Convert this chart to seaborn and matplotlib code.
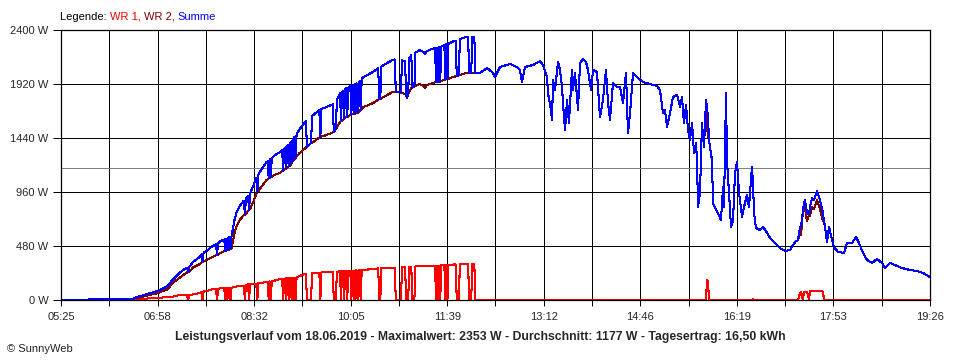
import numpy as np
import pandas as pd
import matplotlib
matplotlib.use("Agg")
import matplotlib.pyplot as plt
import seaborn as sns

# Zeit in Minuten seit Mitternacht, Leistung in W
zeit_vormittag = [325, 345, 363, 380, 395, 399, 404, 411, 418, 421,
                  428, 433, 440, 447, 448, 449, 453, 459, 461, 462,
                  463, 466, 472, 475, 476, 477, 479, 483, 484, 485,
                  486, 487, 488, 489, 490, 493, 495, 498, 502, 503,
                  504, 506, 507, 508, 511, 514, 515, 516, 518, 524,
                  525, 526, 527, 528, 529, 531, 537, 539, 540, 541,
                  542, 543, 544, 545, 546, 547, 548, 549, 550, 551,
                  552, 553, 556, 562, 563, 567, 568, 569, 575, 576,
                  577, 582, 588, 589, 591, 592, 595, 596, 597, 598,
                  599, 600, 601, 602, 603, 605, 606, 607, 608, 609,
                  610, 611, 612, 613, 614, 615, 616, 618, 627, 632,
                  633, 634, 635, 637, 646, 648, 649, 654, 655, 658,
                  659, 660, 661, 662, 664, 665, 667, 668, 672, 676,
                  677, 679, 685, 687, 688, 689, 690, 691, 692, 693,
                  696, 697, 698, 699, 700, 704, 707, 708, 710, 711,
                  717, 719, 720, 722, 723, 725, 726]
wr1_vormittag = [0, 0, 0, 0, 0, 9, 10, 15, 18, 20,
                 27, 30, 44, 44, 0, 44, 50, 62, 70, 0,
                 75, 80, 98, 100, 0, 100, 104, 106, 0, 107,
                 0, 107, 108, 0, 110, 115, 120, 125, 128, 0,
                 135, 138, 0, 140, 142, 146, 0, 148, 150, 160,
                 162, 0, 165, 0, 168, 170, 187, 188, 0, 190,
                 191, 0, 192, 193, 0, 194, 195, 0, 195, 196,
                 0, 200, 213, 235, 0, 0, 238, 240, 244, 0,
                 245, 249, 250, 0, 0, 252, 255, 0, 256, 256,
                 0, 257, 257, 0, 258, 260, 0, 262, 262, 0,
                 263, 264, 0, 265, 265, 0, 266, 267, 276, 280,
                 0, 0, 282, 284, 284, 286, 0, 0, 290, 292,
                 0, 0, 0, 295, 296, 0, 0, 298, 302, 302,
                 302, 302, 305, 305, 0, 306, 0, 307, 0, 308,
                 309, 0, 310, 0, 311, 315, 316, 0, 0, 318,
                 320, 320, 0, 0, 320, 320, 0]
wr2_vormittag = [0, 2, 8, 10, 12, 18, 30, 45, 60, 70,
                 95, 150, 200, 245, 248, 250, 290, 318, 335, 340,
                 345, 356, 385, 397, 400, 405, 418, 432, 435, 440,
                 444, 446, 449, 452, 456, 600, 660, 711, 755, 760,
                 770, 790, 800, 810, 870, 940, 960, 965, 996, 1067,
                 1072, 1080, 1085, 1090, 1095, 1110, 1129, 1145, 1150, 1155,
                 1165, 1170, 1182, 1186, 1190, 1200, 1215, 1230, 1244, 1252,
                 1260, 1275, 1307, 1355, 1360, 1395, 1400, 1404, 1445, 1449,
                 1452, 1467, 1490, 1493, 1520, 1530, 1582, 1590, 1595, 1603,
                 1610, 1620, 1624, 1627, 1630, 1644, 1648, 1650, 1652, 1655,
                 1658, 1662, 1665, 1668, 1680, 1690, 1700, 1716, 1751, 1780,
                 1785, 1788, 1790, 1804, 1849, 1852, 1855, 1845, 1840, 1830,
                 1822, 1796, 1830, 1850, 1885, 1893, 1898, 1900, 1920, 1900,
                 1884, 1910, 1930, 1936, 1938, 1938, 1940, 1940, 1942, 1945,
                 1958, 1960, 1964, 1966, 1966, 1982, 1988, 1990, 1996, 2000,
                 2018, 2018, 2018, 2018, 2018, 2019, 2020]

zeit_nachmittag = [730.5, 737.3, 743.1, 745.0, 749.9, 759.5, 766.3, 769.2, 771.1, 774.0, 781.8, 788.6,
                   791.5, 795.3, 796.3, 799.2, 800.2, 801.2, 803.1, 806.0, 807.9, 809.9, 810.8, 812.8,
                   814.7, 816.6, 819.5, 820.5, 822.4, 824.4, 825.3, 827.3, 830.2, 833.1, 835.0, 837.9,
                   839.9, 843.7, 846.6, 849.5, 852.4, 854.4, 856.3, 859.2, 863.1, 866.0, 868.9, 871.8,
                   873.7, 875.7, 878.6, 882.4, 888.2, 895.0, 901.8, 904.7, 907.6, 909.5, 911.5, 914.4,
                   917.3, 921.2, 924.1, 926.0, 927.9, 929.9, 931.8, 933.7, 935.7, 937.6, 939.5, 940.5,
                   941.5, 943.4, 945.3, 947.3, 949.2, 950.2, 951.2, 952.1, 955.0, 956.0, 958.9, 960.8,
                   963.7, 965.7, 966.6, 968.6, 969.5, 971.5, 973.4, 975.4, 977.3, 979.2, 981.2, 984.1,
                   986.0, 988.9, 990.8, 993.7, 994.7, 995.7, 997.6, 1001.5, 1004.4, 1008.3, 1011.2, 1016.0,
                   1020.8, 1025.7, 1030.5, 1035.4, 1038.3, 1040.2, 1041.2, 1043.1, 1044.0, 1045.0, 1047.0, 1048.9,
                   1049.9, 1051.8, 1053.8, 1056.7, 1059.5, 1062.4, 1063.4, 1064.4, 1066.3, 1068.3, 1071.2, 1073.1,
                   1077.0, 1082.8, 1085.7, 1090.5, 1094.4, 1097.3, 1101.2, 1105.0, 1109.9, 1114.7, 1119.6, 1122.5,
                   1127.3, 1132.1, 1138.9, 1146.6, 1153.4, 1159.2, 1166.0]
wr1_nachmittag = ([0] * 77 + [178, 160] + [0] * 21 + [10] + [0] * 12
                  + [60, 70, 0, 75, 75, 75, 0, 80, 80, 80, 80, 80, 75] + [0] * 25)
wr2_nachmittag = [2018, 2062, 2018, 1982, 2071, 2098, 2071, 2044, 1938, 2071, 2089, 2124,
                  2089, 1982, 1840, 1689, 1600, 1956, 1867, 2116, 2044, 1893, 1751, 1511,
                  1778, 1573, 2044, 1867, 2018, 1804, 1689, 2107, 2142, 2116, 2044, 1867,
                  2044, 2027, 1627, 1778, 2044, 1751, 1600, 1929, 1893, 1893, 1751, 2018,
                  1484, 1662, 2018, 1982, 1938, 1920, 1902, 1867, 1662, 1689, 1538, 1662,
                  1804, 1822, 1716, 1804, 1573, 1733, 1511, 1422, 1573, 1307, 1396, 1244,
                  827, 951, 1573, 1360, 1778, 1540, 1450, 1422, 1244, 862, 800, 773,
                  711, 1004, 827, 1840, 1244, 951, 649, 711, 1129, 1227, 951, 738,
                  827, 933, 827, 1182, 1030, 773, 640, 622, 649, 596, 551, 507,
                  462, 436, 444, 516, 533, 589, 579, 800, 790, 814, 698, 760,
                  747, 827, 809, 889, 809, 698, 700, 649, 516, 649, 533, 471,
                  427, 418, 507, 507, 560, 507, 418, 356, 329, 364, 329, 284,
                  329, 311, 284, 267, 258, 240, 204]

x_labels = ["05:25", "06:58", "08:32", "10:05", "11:39", "13:12", "14:46", "16:19", "17:53", "19:26"]
y_werte = [0, 480, 960, 1440, 1920, 2400]
durchschnitt = 1177
titel = ("Leistungsverlauf vom 18.06.2019 - Maximalwert: 2353 W - Durchschnitt: 1177 W"
         " - Tagesertrag: 16,50 kWh")

farben = {"WR 1": "#ff0000", "WR 2": "#800000", "Summe": "#0000ff"}

df = pd.DataFrame({
    "zeit": zeit_vormittag + zeit_nachmittag,
    "WR 1": wr1_vormittag + wr1_nachmittag,
    "WR 2": wr2_vormittag + wr2_nachmittag,
})
df["Summe"] = df["WR 1"] + df["WR 2"]
lang = df.melt(id_vars="zeit", var_name="serie", value_name="leistung")

sns.set_theme(style="white")
plt.rcParams["font.family"] = ["Liberation Sans", "DejaVu Sans"]

fig = plt.figure(figsize=(9.6, 3.6), dpi=100)
ax = fig.add_axes([61 / 960, 60 / 360, 869 / 960, 270 / 360])

# Linien ohne Kantenglättung wie im Original
sns.lineplot(data=lang, x="zeit", y="leistung", hue="serie", hue_order=["WR 1", "WR 2", "Summe"],
             palette=farben, estimator=None, legend=False, ax=ax, linewidth=0.75,
             antialiased=False)

ax.axhline(durchschnitt, color="#808080", lw=0.72, zorder=1.5, antialiased=False)

x_pos = np.linspace(325, 1166, 10)
ax.set_xlim(325, 1166)
ax.set_ylim(0, 2400)
ax.set_xticks(x_pos)
ax.set_xticklabels(x_labels)
ax.set_xticks(np.linspace(325, 1166, 19), minor=True)
ax.set_yticks(y_werte)
ax.set_yticklabels([f"{v} W" for v in y_werte])
ax.set_xlabel("")
ax.set_ylabel("")
ax.set_axisbelow(True)
ax.grid(True, which="both", color="black", lw=0.72, antialiased=False)
ax.tick_params(axis="x", which="both", direction="out", length=4, width=0.72, color="black",
               labelsize=8, pad=5, bottom=True)
ax.tick_params(axis="y", direction="out", length=6, width=0.72, color="black", labelsize=8,
               pad=3, left=True)
for s in ax.spines.values():
    s.set_color("black")
    s.set_linewidth(0.9)
    s.set_zorder(3)

# Legende als farbiger Text
fig.canvas.draw()
renderer = fig.canvas.get_renderer()
x = 60 / 960
for teil, farbe in [("Legende: ", "black"), ("WR 1, ", farben["WR 1"]),
                    ("WR 2, ", farben["WR 2"]), ("Summe", farben["Summe"])]:
    t = fig.text(x, 1 - 16.5 / 360, teil, color=farbe, fontsize=8, va="center", ha="left")
    bb = t.get_window_extent(renderer)
    x += bb.width / 960

fig.text(0.5, 1 - 337 / 360, titel, fontsize=8.8, fontweight="bold", ha="center", va="center")
fig.text(7 / 960, 1 - 349 / 360, "\u00a9 SunnyWeb", fontsize=8, ha="left", va="center")

fig.savefig("out.png", dpi=100)
